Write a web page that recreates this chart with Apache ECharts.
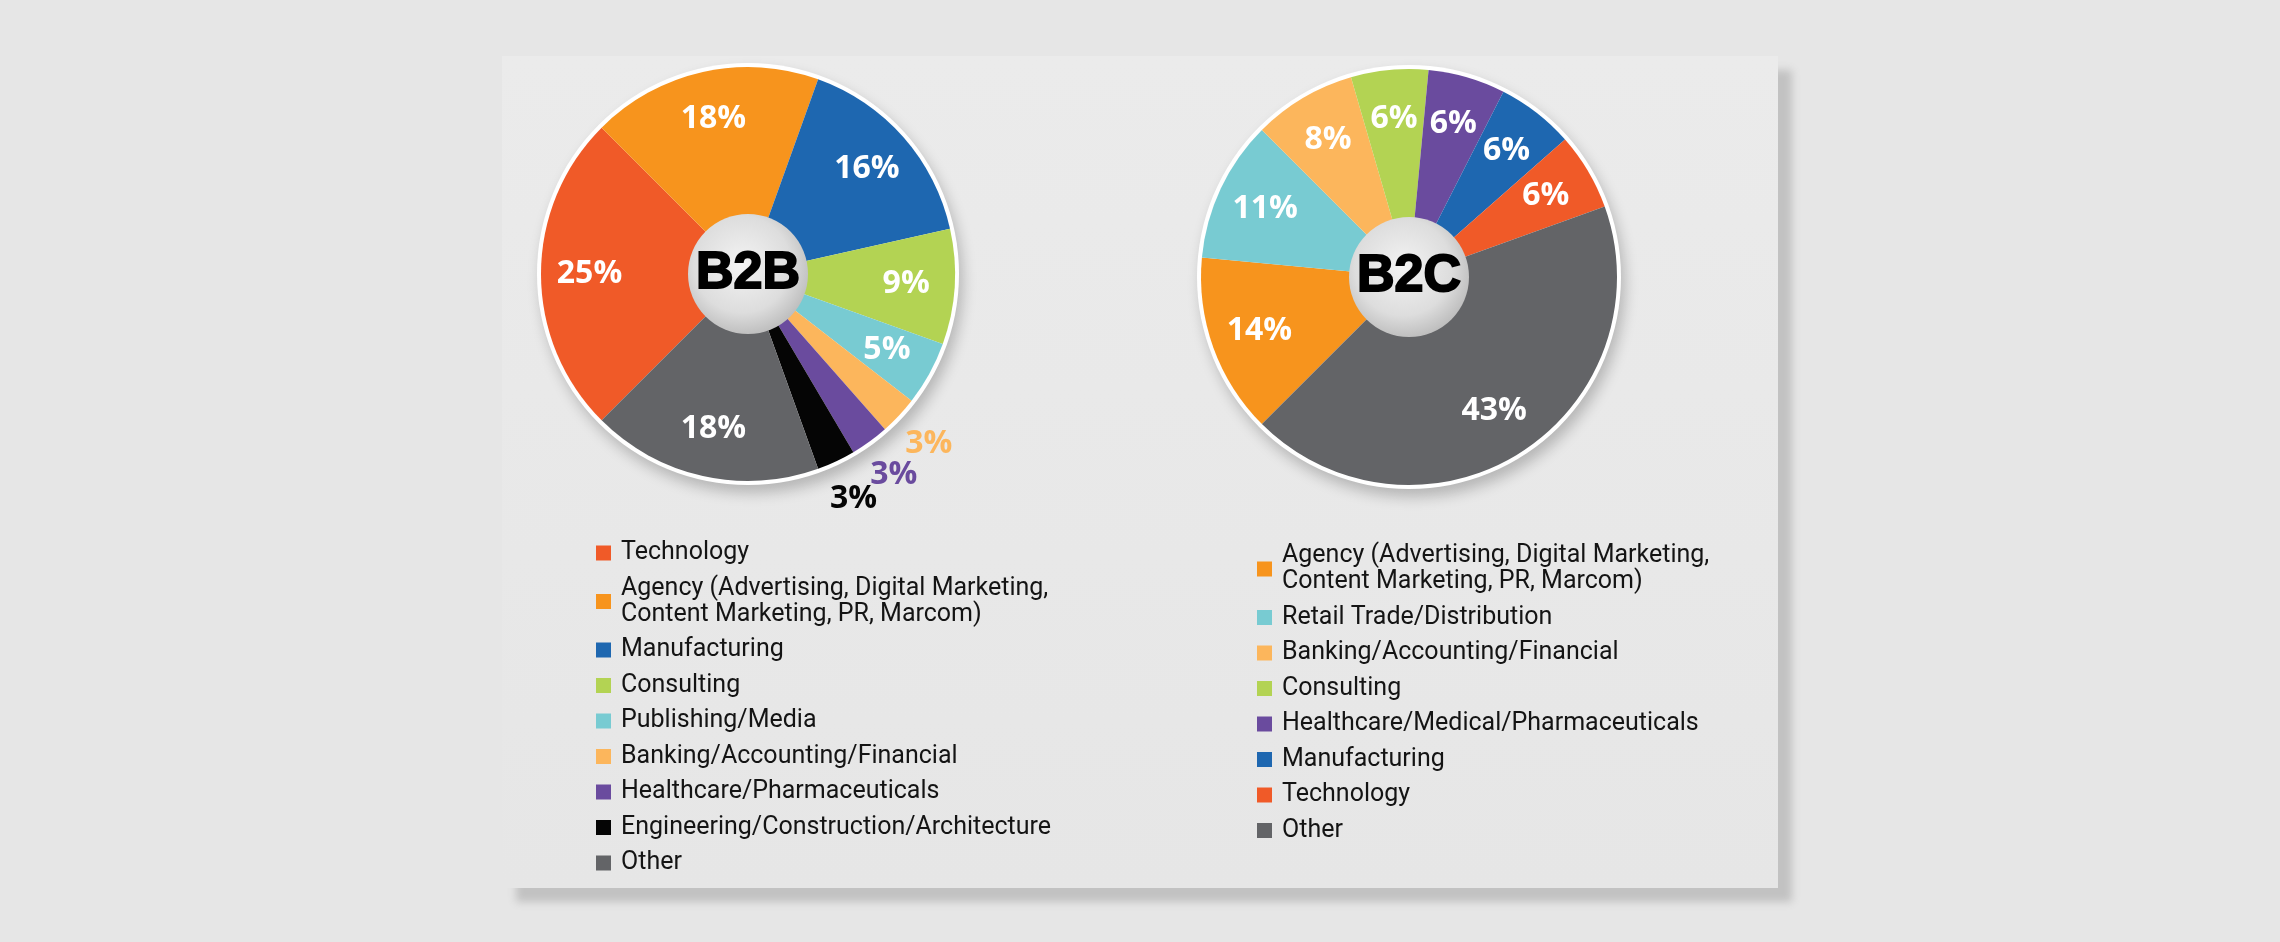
<!DOCTYPE html>
<html>
<head>
<meta charset="utf-8">
<style>
  html, body { margin: 0; padding: 0; background: #e6e6e6; }
  #panel {
    position: absolute; left: 502px; top: 56px; width: 1276px; height: 832px;
    background: linear-gradient(#ebebeb, #e6e6e6);
    box-shadow: 14px 14px 8px #c2c2c2;
  }
  #main { position: absolute; left: 0; top: 0; width: 2280px; height: 942px; }
</style>
<script src="https://cdn.jsdelivr.net/npm/echarts@6/dist/echarts.min.js"></script>
</head>
<body>
<div id="panel"></div>
<div id="main"></div>
<script>
// B2B respondents by industry (%)
var b2bNames = [
  'Technology',
  'Agency (Advertising, Digital Marketing, Content Marketing, PR, Marcom)',
  'Manufacturing',
  'Consulting',
  'Publishing/Media',
  'Banking/Accounting/Financial',
  'Healthcare/Pharmaceuticals',
  'Engineering/Construction/Architecture',
  'Other'
];
var b2bValues = [25, 18, 16, 9, 5, 3, 3, 3, 18];

// B2C respondents by industry (%)
var b2cNames = [
  'Agency (Advertising, Digital Marketing, Content Marketing, PR, Marcom)',
  'Retail Trade/Distribution',
  'Banking/Accounting/Financial',
  'Consulting',
  'Healthcare/Medical/Pharmaceuticals',
  'Manufacturing',
  'Technology',
  'Other'
];
var b2cValues = [14, 11, 8, 6, 6, 6, 6, 43];

var colorOf = {
  'Technology': '#f05a28',
  'Agency (Advertising, Digital Marketing, Content Marketing, PR, Marcom)': '#f7941d',
  'Manufacturing': '#1e67b0',
  'Consulting': '#b3d353',
  'Publishing/Media': '#78cbd2',
  'Retail Trade/Distribution': '#78cbd2',
  'Banking/Accounting/Financial': '#fcb65c',
  'Healthcare/Pharmaceuticals': '#6a4b9e',
  'Healthcare/Medical/Pharmaceuticals': '#6a4b9e',
  'Engineering/Construction/Architecture': '#050505',
  'Other': '#636467'
};

var SMALL = 4; // slices under this get their label outside

var myChart = echarts.init(document.getElementById('main'));

function sliceData(names, values, transparent, outer) {
  return names.map(function (n, i) {
    var item = { name: n, value: values[i],
      itemStyle: { color: transparent ? 'rgba(0,0,0,0)' : colorOf[n] } };
    if (outer) item.label = { color: colorOf[n] };
    return item;
  });
}

function mainPie(names, values, center, r) {
  return {
    type: 'pie', center: center, radius: [0, r], startAngle: 225, clockwise: true,
    data: sliceData(names, values, false), z: 3, silent: true,
    label: { show: false }, labelLine: { show: false }
  };
}

function ringPie(center, r) {
  return {
    type: 'pie', center: center, radius: [0, r + 4], silent: true, z: 2,
    data: [{ value: 1, name: '' }],
    itemStyle: { color: '#ffffff', shadowBlur: 14, shadowOffsetX: 4, shadowOffsetY: 8, shadowColor: 'rgba(0,0,0,0.22)' },
    label: { show: false }, labelLine: { show: false }
  };
}

function labelPie(names, values, center, radius, outer) {
  return {
    type: 'pie', center: center, radius: radius, startAngle: 225, clockwise: true,
    data: sliceData(names, values, true, outer), z: 5, silent: true,
    avoidLabelOverlap: false,
    labelLayout: { hideOverlap: false },
    labelLine: { show: false },
    label: {
      show: true, position: 'inside',
      fontFamily: 'Open Sans', fontWeight: 'bold', fontSize: 32,
      color: '#ffffff',
      formatter: function (p) {
        var small = p.value < SMALL;
        return (outer ? small : !small) ? p.value + '%' : '';
      }
    }
  };
}

function spherePie(title, center) {
  return {
    type: 'pie', center: center, radius: [0, 60], silent: true, z: 6,
    data: [{ value: 1, name: title }],
    itemStyle: {
      color: new echarts.graphic.RadialGradient(0.45, 0.42, 0.62, [
        { offset: 0, color: '#f3f3f3' },
        { offset: 0.65, color: '#dddddd' },
        { offset: 1, color: '#b9b9b9' }
      ])
    },
    labelLine: { show: false },
    label: {
      show: true, position: 'center', formatter: title,
      fontFamily: 'Liberation Sans', fontWeight: 'bold', fontSize: 52,
      color: '#000000', textBorderColor: '#000000', textBorderWidth: 2
    }
  };
}

var b2bCenter = [748, 274], b2bR = 207;
var b2cCenter = [1409, 277], b2cR = 208;

function legendFor(names, left, top) {
  return {
    orient: 'vertical', left: left, top: top, padding: 0,
    itemWidth: 15, itemHeight: 15, itemGap: 9.5,
    icon: 'rect', selectedMode: false,
    data: names,
    formatter: function (name) { return name.replace('Marketing, ', 'Marketing,\n'); },
    textStyle: { fontFamily: 'Roboto', fontSize: 25, lineHeight: 26, color: '#141414', padding: [0, 0, 0, 5] }
  };
}

var option = {
  animation: false,
  legend: [
    legendFor(b2bNames, 596, 540),
    legendFor(b2cNames, 1257, 543)
  ],
  series: [
    mainPie(b2bNames, b2bValues, b2bCenter, b2bR),
    mainPie(b2cNames, b2cValues, b2cCenter, b2cR),
    ringPie(b2bCenter, b2bR),
    ringPie(b2cCenter, b2cR),
    labelPie(b2bNames, b2bValues, b2bCenter, [104, b2bR], false),
    labelPie(b2cNames, b2cValues, b2cCenter, [104, b2cR], false),
    labelPie(b2bNames, b2bValues, b2bCenter, [b2bR, b2bR + 76], true),
    spherePie('B2B', b2bCenter),
    spherePie('B2C', b2cCenter)
  ]
};
myChart.setOption(option);
</script>
</body>
</html>
